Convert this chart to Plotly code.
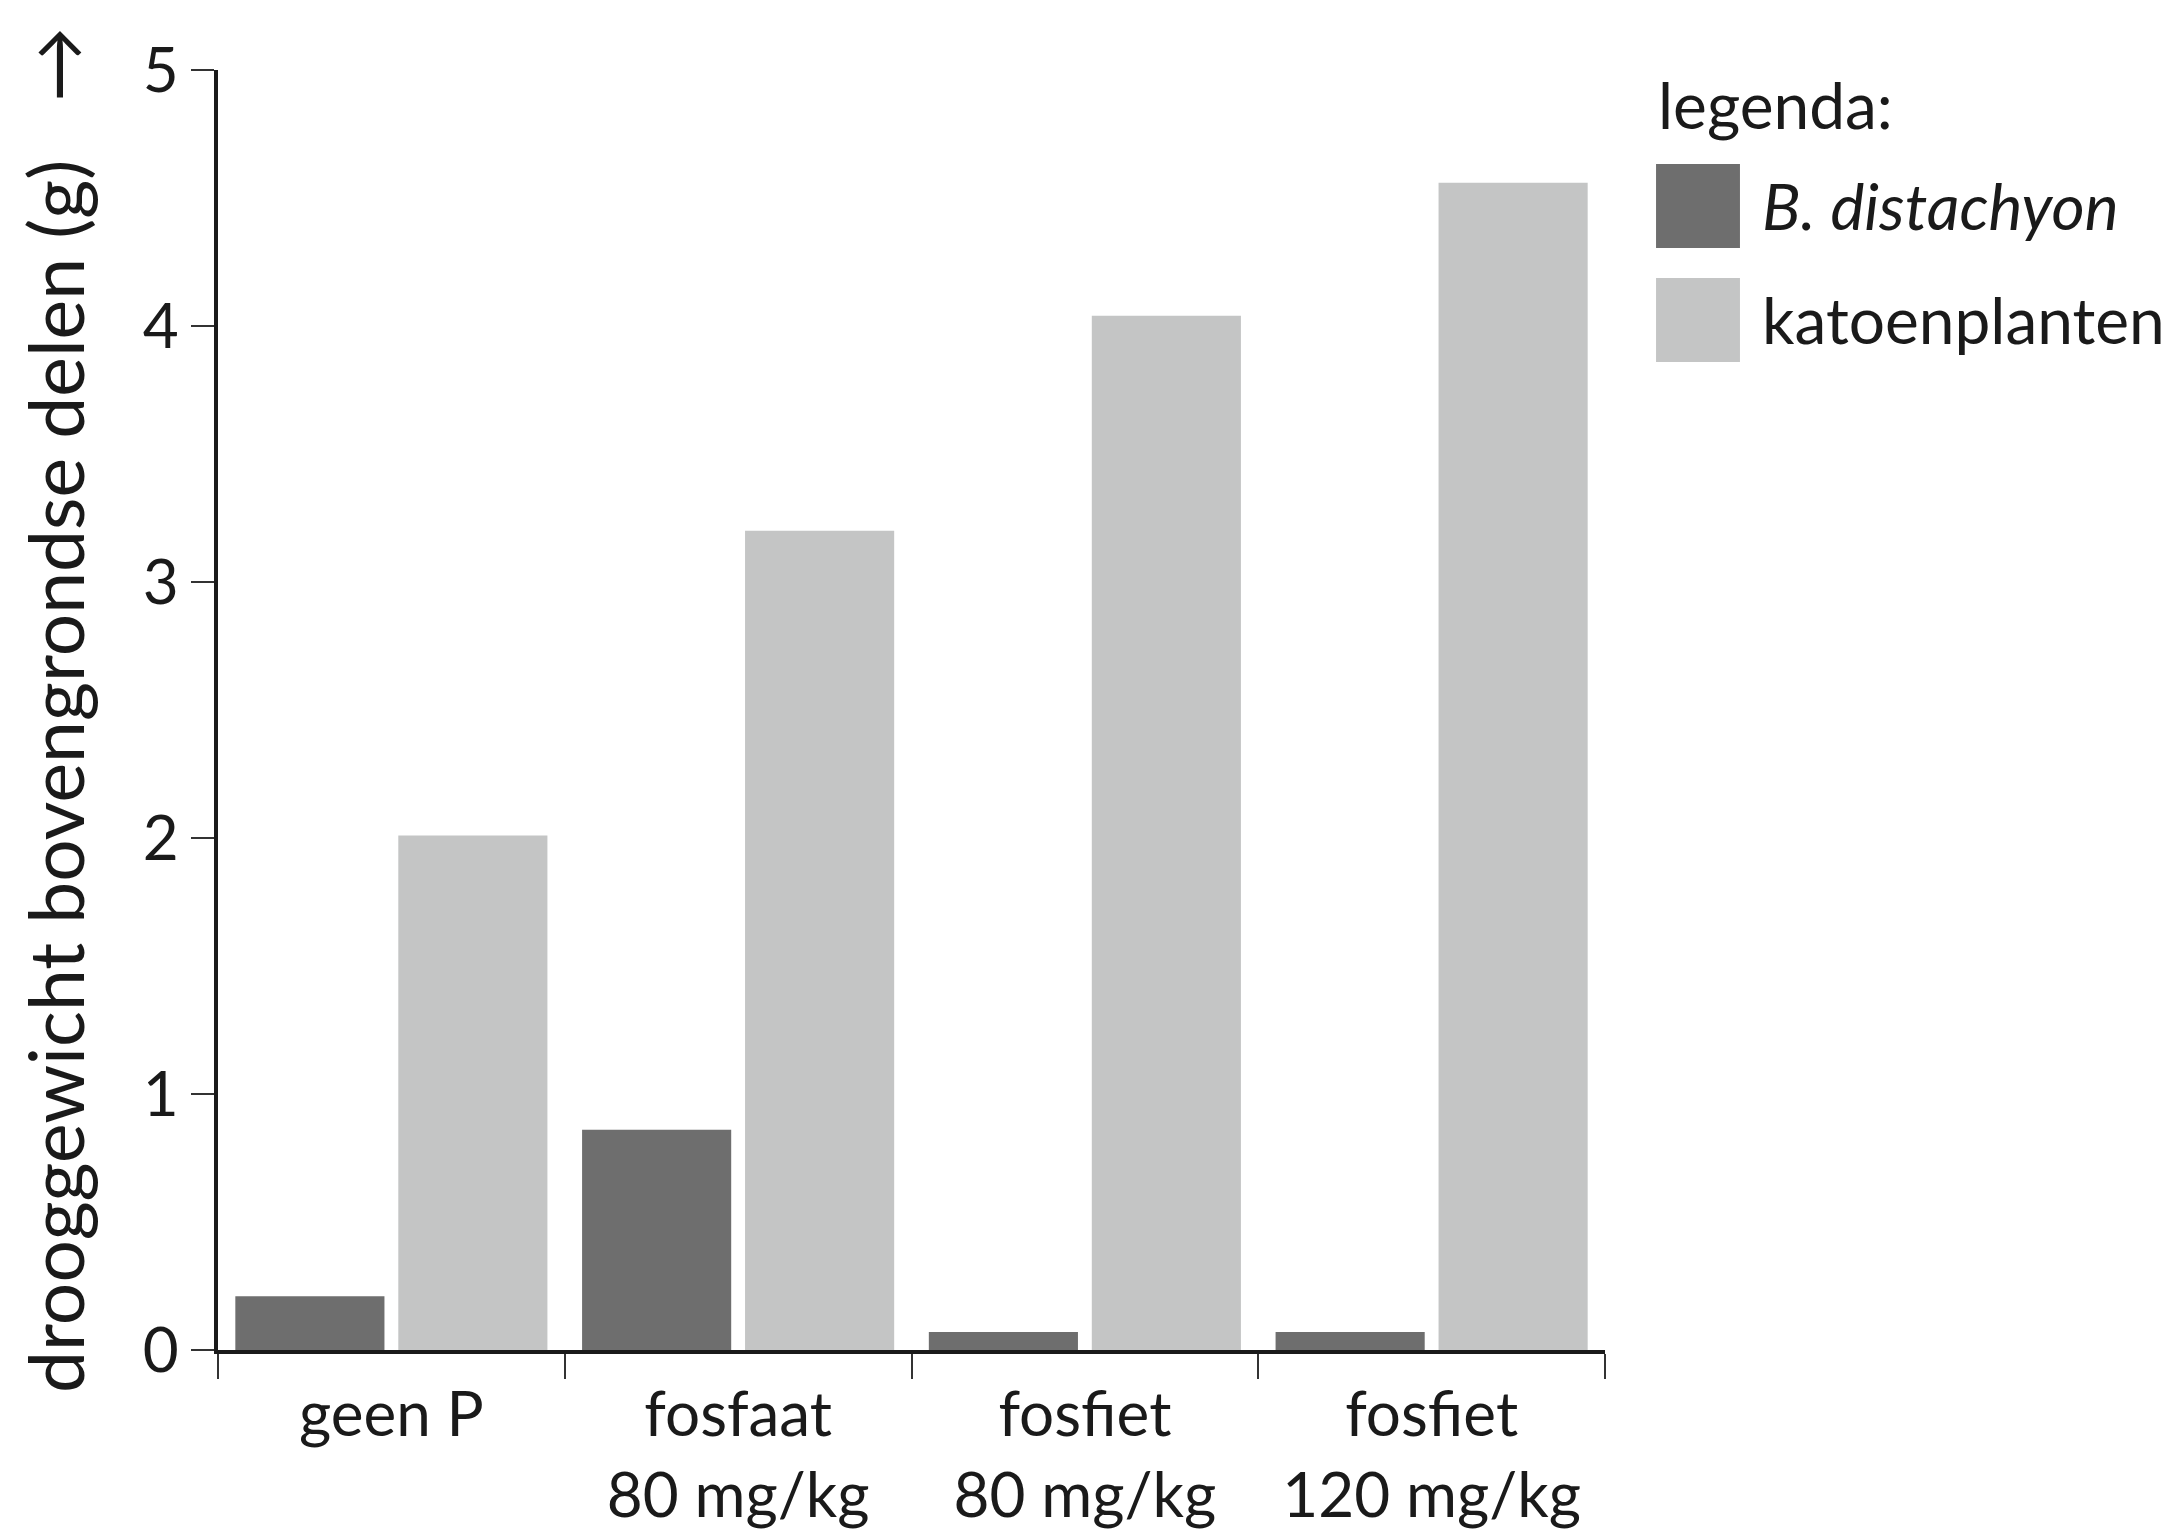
import plotly.graph_objects as go

# =====================================================
# DATA
# =====================================================

categories = ["geen P", "fosfaat<br>80 mg/kg", "fosfiet<br>80 mg/kg", "fosfiet<br>120 mg/kg"]
b_distachyon = [0.21, 0.86, 0.07, 0.07]
katoenplanten = [2.01, 3.20, 4.04, 4.56]
y_ticks = [0, 1, 2, 3, 4, 5]

DARK = "#6e6e6e"
LIGHT = "#c4c5c5"
FONT = "Lato, Open Sans, sans-serif"

fig = go.Figure()

fig.add_trace(
    go.Bar(
        x=categories,
        y=b_distachyon,
        name="B. distachyon",
        marker=dict(color=DARK, line=dict(width=0)),
        showlegend=False
    )
)

fig.add_trace(
    go.Bar(
        x=categories,
        y=katoenplanten,
        name="katoenplanten",
        marker=dict(color=LIGHT, line=dict(width=0)),
        showlegend=False
    )
)

fig.update_layout(
    width=2182,
    height=1540,
    margin=dict(l=210, r=585, t=62, b=198),
    paper_bgcolor="white",
    plot_bgcolor="white",
    barmode="group",
    bargap=0.06,
    bargroupgap=0.085,
    font=dict(family=FONT, size=62, color="#1a1a1a")
)

fig.update_xaxes(
    type="category",
    showline=True,
    linecolor="#1a1a1a",
    linewidth=4,
    ticks="outside",
    tickson="boundaries",
    ticklen=25,
    tickwidth=2,
    tickcolor="#333333",
    showgrid=False,
    ticklabelstandoff=8,
    tickfont=dict(size=62)
)

fig.update_yaxes(
    range=[0, 5],
    tickvals=y_ticks,
    showline=True,
    linecolor="#1a1a1a",
    linewidth=4,
    ticks="outside",
    ticklen=23,
    tickwidth=2,
    tickcolor="#333333",
    showgrid=False,
    zeroline=False,
    tickfont=dict(size=62),
    title=dict(
        text="drooggewicht bovengrondse delen (g)   \u2192",
        font=dict(size=75),
        standoff=34
    )
)

# =====================================================
# LEGEND (manual, large swatches)
# =====================================================

legend_items = [("<i>B. distachyon</i>", DARK, 0.8609, 0.9266),
                ("katoenplanten", LIGHT, 0.7719, 0.8375)]

fig.add_annotation(
    text="legenda:", xref="paper", yref="paper",
    x=1.0368, y=0.9734, xanchor="left", yanchor="middle",
    showarrow=False, font=dict(size=64)
)

for label, color, y0, y1 in legend_items:
    fig.add_shape(
        type="rect", xref="paper", yref="paper",
        x0=1.0368, x1=1.0973, y0=y0, y1=y1,
        fillcolor=color, line=dict(width=0)
    )
    fig.add_annotation(
        text=label, xref="paper", yref="paper",
        x=1.1118, y=(y0 + y1) / 2, xanchor="left", yanchor="middle",
        showarrow=False, font=dict(size=64)
    )

fig.write_html("out.html")
